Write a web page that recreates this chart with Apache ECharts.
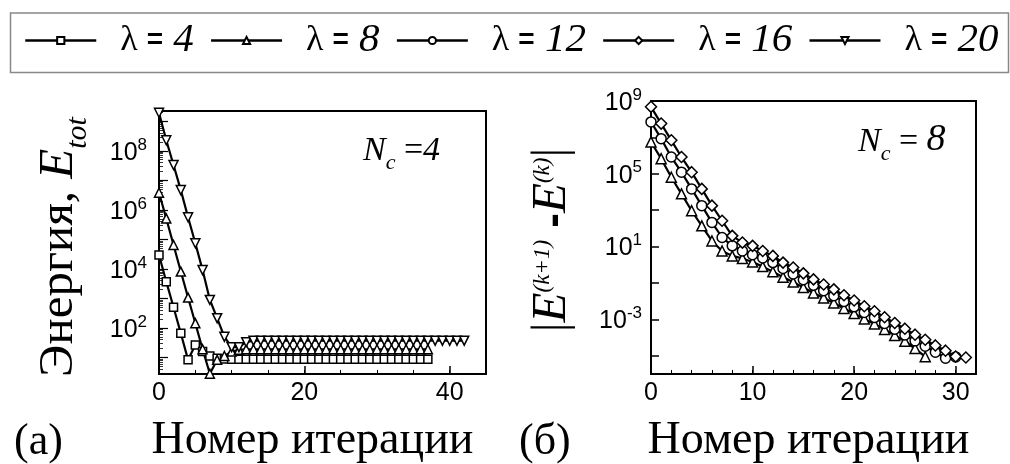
<!DOCTYPE html>
<html><head><meta charset="utf-8">
<script src="https://cdn.jsdelivr.net/npm/echarts@6/dist/echarts.min.js"></script>
<style>html,body{margin:0;padding:0;background:#fff}#c{width:1010px;height:464px}</style>
</head><body><div id="c"></div><script>
// Legend names
const seriesNames = ['λ = 4', 'λ = 8', 'λ = 12', 'λ = 16', 'λ = 20'];

// Panel (а): total energy E_tot vs iteration number, N_c = 4 (index = iteration)
const leftLam4 = [2.95e4, 3.7e3, 5.0e2, 66, 8.3, 26.3, 16, 11.2, 9.5, 8.9,
  8.7, 8.7, 8.7, 8.7, 8.7, 8.7, 8.7, 8.7, 8.7, 8.7, 8.7, 8.7, 8.7, 8.7, 8.7, 8.7, 8.7, 8.7,
  8.7, 8.7, 8.7, 8.7, 8.7, 8.7, 8.7, 8.7, 8.7, 8.7];
const leftLam8 = [3.8e6, 5.13e5, 6.46e4, 8.13e3, 1.07e3, 145, 19, 2.8, 8.3, 11.2,
  15.8, 18.2, 19, 19, 19, 19, 19, 19, 19, 19, 19, 19, 19, 19, 19, 19, 19, 19,
  19, 19, 19, 19, 19, 19, 19, 19, 19, 19];
const leftLam20 = [1.95e9, 2.29e8, 3.31e7, 4.68e6, 5.62e5, 7.41e4, 9.12e3, 891, 214, 50,
  22.4, 22.4, 33, 37, 37, 37, 37, 37, 37, 37, 37, 37, 37, 37, 37, 37, 37, 37,
  37, 37, 37, 37, 37, 37, 37, 37, 37, 37, 37, 37, 37, 37, 37];

// Panel (б): |E(k+1) - E(k)| vs iteration number, N_c = 8
const rightLam8 = [5.62e6, 6.76e5, 6.46e4, 7.94e3, 933, 138, 20.4, 5.75, 3.09, 2.24,
  1.41, 0.794, 0.417, 0.209, 0.112, 0.0562, 0.0282, 0.0151, 0.00794, 0.00398,
  0.00209, 0.00105, 5.62e-4, 2.82e-4, 1.32e-4, 6.31e-5, 2.51e-5, 8.91e-6];
const rightLam12 = [7.08e7, 8.51e6, 8.32e5, 1.23e5, 1.48e4, 1.78e3, 214, 31.6, 11.0, 5.75,
  3.55, 2.4, 1.32, 0.631, 0.316, 0.151, 0.0741, 0.038, 0.02, 0.00955,
  0.0049, 0.0024, 0.00126, 6.03e-4, 2.88e-4, 1.38e-4, 6.61e-5, 3.39e-5, 1.58e-5, 7.41e-6, 8.71e-6];
const rightLam16 = [4.79e8, 5.75e7, 6.92e6, 8.32e5, 1.23e5, 1.48e4, 1.78e3, 263, 38.9, 16.6,
  11.0, 5.75, 3.09, 1.32, 0.708, 0.339, 0.158, 0.0832, 0.0447, 0.0214,
  0.011, 0.00525, 0.00282, 0.00132, 6.31e-4, 3.09e-4, 1.45e-4, 7.59e-5, 3.72e-5, 1.91e-5, 9.12e-6, 8.13e-6];

// Tick labels
const leftXLabels = [0, 20, 40];
const rightXLabels = [0, 10, 20, 30];
const leftYLabels = [1e2, 1e4, 1e6, 1e8];
const rightYLabels = [1e9, 1e5, 1e1, 1e-3];
const leftYMajorTicks = [1e1, 1e2, 1e3, 1e4, 1e5, 1e6, 1e7, 1e8, 1e9];
const rightYMajorTicks = [1e9, 1e7, 1e5, 1e3, 1e1, 1e-1, 1e-3, 1e-5];

const leftYMinorTicks = [];
for (let d = 0; d <= 9; d++) for (let m = 2; m <= 9; m++) leftYMinorTicks.push(m * Math.pow(10, d));

const toPairs = arr => arr.map((v, i) => [i, v]);
const F_SERIF = '"Liberation Serif", "Times New Roman", serif';
const F_SANS = '"Liberation Sans", Arial, sans-serif';

const supRich = {
  b: { fontFamily: F_SANS, fontSize: 25, color: '#000', verticalAlign: 'bottom' },
  s: { fontFamily: F_SANS, fontSize: 17, color: '#000', verticalAlign: 'bottom', padding: [0, 0, 12, 0] }
};
const powFmt = v => '{b|10}{s|' + Math.round(Math.log10(v)) + '}';

const baseSeries = {
  type: 'line',
  lineStyle: { color: '#000', width: 2.2 },
  itemStyle: { color: '#fff', borderColor: '#000', borderWidth: 1.5 },
  emphasis: { disabled: true },
  animation: false
};

const chart = echarts.init(document.getElementById('c'), null, { renderer: 'canvas' });
chart.setOption({
  backgroundColor: '#fff',
  animation: false,
  legend: {
    data: seriesNames,
    left: 24, top: 20, padding: 0,
    itemGap: 16, itemWidth: 71, itemHeight: 9,
    lineStyle: { width: 2.5 },
    formatter: name => '{l|λ }{e|=}{n| ' + name.split(' = ')[1] + '}',
    textStyle: {
      rich: {
        l: { fontFamily: F_SERIF, fontSize: 36, color: '#000', padding: [0, 0, 0, 19] },
        e: { fontFamily: F_SANS, fontWeight: 'bold', fontSize: 28, color: '#000' },
        n: { fontFamily: F_SERIF, fontStyle: 'italic', fontSize: 41, color: '#000' }
      }
    }
  },
  grid: [
    { left: 159, top: 111, width: 327, height: 263, show: true, borderColor: '#000', borderWidth: 2,
      backgroundColor: 'transparent', containLabel: false, outerBoundsMode: 'none' },
    { left: 651, top: 101, width: 325, height: 273, show: true, borderColor: '#000', borderWidth: 2,
      backgroundColor: 'transparent', containLabel: false, outerBoundsMode: 'none' }
  ],
  xAxis: [
    { type: 'value', gridIndex: 0, min: 0, max: 45, position: 'bottom',
      axisLine: { lineStyle: { color: '#000', width: 2 } },
      axisTick: { inside: true, length: 8, customValues: leftXLabels, lineStyle: { color: '#000', width: 1.5 } },
      axisLabel: { customValues: leftXLabels, fontFamily: F_SANS, fontSize: 25, color: '#000', margin: 7 },
      splitLine: { show: false },
      name: 'Номер итерации', nameLocation: 'middle', nameGap: 44,
      nameTextStyle: { fontFamily: F_SERIF, fontSize: 46, color: '#000', padding: [0, 20, 0, 0] } },
    { type: 'value', gridIndex: 0, min: 0, max: 45, interval: 5, position: 'bottom',
      axisLine: { show: false },
      axisTick: { inside: true, length: 4, lineStyle: { color: '#000', width: 1 } },
      axisLabel: { show: false }, splitLine: { show: false } },
    { type: 'value', gridIndex: 1, min: 0, max: 32, position: 'bottom',
      axisLine: { lineStyle: { color: '#000', width: 2 } },
      axisTick: { inside: true, length: 8, customValues: rightXLabels, lineStyle: { color: '#000', width: 1.5 } },
      axisLabel: { customValues: rightXLabels, fontFamily: F_SANS, fontSize: 25, color: '#000', margin: 7 },
      splitLine: { show: false },
      name: 'Номер итерации', nameLocation: 'middle', nameGap: 44,
      nameTextStyle: { fontFamily: F_SERIF, fontSize: 46, color: '#000', padding: [0, 10, 0, 0] } },
    { type: 'value', gridIndex: 1, min: 0, max: 32, interval: 2, position: 'bottom',
      axisLine: { show: false },
      axisTick: { inside: true, length: 4, lineStyle: { color: '#000', width: 1 } },
      axisLabel: { show: false }, splitLine: { show: false } }
  ],
  yAxis: [
    { type: 'log', logBase: 10, gridIndex: 0, min: 2.754, max: 2.24e9, position: 'left',
      axisLine: { show: true, lineStyle: { color: '#000', width: 2 } },
      axisTick: { inside: true, length: 9, customValues: leftYMajorTicks, lineStyle: { color: '#000', width: 1.2 } },
      axisLabel: { customValues: leftYLabels, formatter: powFmt, rich: supRich, margin: 12 },
      splitLine: { show: false },
      name: '{r|Энергия, }{i|E}{sub|tot}', nameLocation: 'middle', nameRotate: 90, nameGap: 66,
      nameTextStyle: { padding: [0, 9, 0, 0], rich: {
        r: { fontFamily: F_SERIF, fontSize: 49, color: '#000', verticalAlign: 'bottom', padding: [0, 0, 9, 0] },
        i: { fontFamily: F_SERIF, fontStyle: 'italic', fontSize: 49, color: '#000', verticalAlign: 'bottom', padding: [0, 0, 9, 0] },
        sub: { fontFamily: F_SERIF, fontStyle: 'italic', fontSize: 30, color: '#000', verticalAlign: 'bottom' }
      } } },
    { type: 'log', logBase: 10, gridIndex: 0, min: 2.754, max: 2.24e9, position: 'left',
      axisLine: { show: false },
      axisTick: { inside: true, length: 4, customValues: leftYMinorTicks, lineStyle: { color: '#000', width: 0.8 } },
      axisLabel: { show: false }, splitLine: { show: false } },
    { type: 'log', logBase: 10, gridIndex: 1, min: 1e-6, max: 1e9, position: 'left',
      axisLine: { show: true, lineStyle: { color: '#000', width: 2 } },
      axisTick: { inside: true, length: 8, customValues: rightYMajorTicks, lineStyle: { color: '#000', width: 1.5 } },
      axisLabel: { customValues: rightYLabels, formatter: powFmt, rich: supRich, margin: 9 },
      splitLine: { show: false },
      name: '{bar||}{i|E}{sup|(k+1)}{b| -}{i|E}{sup|(k)}{bar||}', nameLocation: 'middle', nameRotate: 90, nameGap: 74,
      nameTextStyle: { padding: [0, 5, 0, 0], rich: {
        bar: { fontFamily: F_SERIF, fontSize: 49, color: '#000', verticalAlign: 'bottom' },
        i: { fontFamily: F_SERIF, fontStyle: 'italic', fontSize: 49, color: '#000', verticalAlign: 'bottom' },
        sup: { fontFamily: F_SERIF, fontStyle: 'italic', fontSize: 23, color: '#000', verticalAlign: 'bottom', padding: [0, 0, 23, 0] },
        b: { fontFamily: F_SANS, fontWeight: 'bold', fontSize: 44, color: '#000', verticalAlign: 'bottom' }
      } } }
  ],
  series: [
    Object.assign({}, baseSeries, { name: 'λ = 4', xAxisIndex: 0, yAxisIndex: 0, symbol: 'rect', symbolSize: 8, data: toPairs(leftLam4) }),
    Object.assign({}, baseSeries, { name: 'λ = 8', xAxisIndex: 0, yAxisIndex: 0, symbol: 'triangle', symbolSize: 9, data: toPairs(leftLam8) }),
    Object.assign({}, baseSeries, { name: 'λ = 20', xAxisIndex: 0, yAxisIndex: 0, symbol: 'triangle', symbolRotate: 180, symbolSize: 9, data: toPairs(leftLam20) }),
    Object.assign({}, baseSeries, { name: 'λ = 8', xAxisIndex: 2, yAxisIndex: 2, symbol: 'triangle', symbolSize: 10, data: toPairs(rightLam8) }),
    Object.assign({}, baseSeries, { name: 'λ = 12', xAxisIndex: 2, yAxisIndex: 2, symbol: 'circle', symbolSize: 10, data: toPairs(rightLam12) }),
    Object.assign({}, baseSeries, { name: 'λ = 16', xAxisIndex: 2, yAxisIndex: 2, symbol: 'diamond', symbolSize: 11, data: toPairs(rightLam16) })
  ],
  graphic: [
    { type: 'rect', left: 8, top: 10.5, shape: { width: 998, height: 59.5 }, style: { fill: 'none', stroke: '#888', lineWidth: 1.5 }, silent: true },
    { type: 'text', left: 14, top: 420, style: { text: '(а)', font: '44px ' + F_SERIF, fill: '#000' } },
    { type: 'text', left: 519, top: 420, style: { text: '(б)', font: '44px ' + F_SERIF, fill: '#000' } },
    { type: 'text', left: 363, top: 134, style: { text: '{i|N}{sub|c}{r| =}{n|4}', rich: {
      i: { fontFamily: F_SERIF, fontStyle: 'italic', fontSize: 34, fill: '#000', verticalAlign: 'bottom', padding: [0, 0, 6, 0] },
      sub: { fontFamily: F_SERIF, fontStyle: 'italic', fontSize: 22, fill: '#000', verticalAlign: 'bottom' },
      r: { fontFamily: F_SERIF, fontSize: 34, fill: '#000', verticalAlign: 'bottom', padding: [0, 0, 6, 0] },
      n: { fontFamily: F_SERIF, fontStyle: 'italic', fontSize: 34, fill: '#000', verticalAlign: 'bottom', padding: [0, 0, 6, 0] }
    } } },
    { type: 'text', left: 858, top: 121, style: { text: '{i|N}{sub|c}{r| = }{n|8}', rich: {
      i: { fontFamily: F_SERIF, fontStyle: 'italic', fontSize: 34, fill: '#000', verticalAlign: 'bottom', padding: [0, 0, 6, 0] },
      sub: { fontFamily: F_SERIF, fontStyle: 'italic', fontSize: 22, fill: '#000', verticalAlign: 'bottom' },
      r: { fontFamily: F_SERIF, fontSize: 34, fill: '#000', verticalAlign: 'bottom', padding: [0, 0, 6, 0] },
      n: { fontFamily: F_SERIF, fontStyle: 'italic', fontSize: 38, fill: '#000', verticalAlign: 'bottom', padding: [0, 0, 6, 0] }
    } } }
  ]
});
</script></body></html>
